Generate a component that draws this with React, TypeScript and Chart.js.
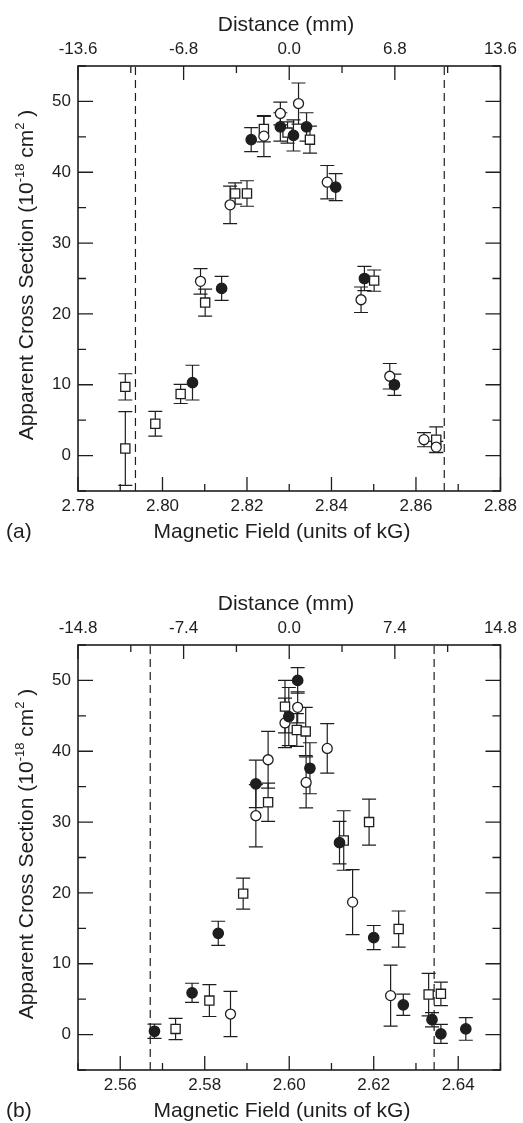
import React, { useEffect, useRef } from "react";
import { Chart, registerables } from "chart.js";

Chart.register(...registerables);

const W = 523;
const H = 544;
const PANEL_B_TOP = 579;
const INK = "#1e1e1e";
const FONT = '"Liberation Sans", Arial, Helvetica, sans-serif';

// ---------------- shared axis values ----------------
const Y_TICKS = [-5, 0, 5, 10, 15, 20, 25, 30, 35, 40, 45, 50, 55];

// ---------------- Panel (a) ----------------
const A_FIELD_TICKS = [2.78, 2.79, 2.8, 2.81, 2.82, 2.83, 2.84, 2.85, 2.86, 2.87, 2.88];
const A_DIST_TICKS = [-13.6, -10.2, -6.8, -3.4, 0, 3.4, 6.8, 10.2, 13.6];
const A_FILLED_X = [2.8071, 2.814, 2.821, 2.8279, 2.831, 2.8341, 2.841, 2.8478, 2.8549];
const A_FILLED_Y = [10.3, 23.6, 44.6, 46.4, 45.2, 46.4, 37.9, 25.0, 10.0];
const A_FILLED_ERR = [2.45, 1.7, 1.7, 2.0, 2.2, 2.0, 1.9, 1.7, 1.5];
const A_OPEN_X = [2.809, 2.816, 2.824, 2.8279, 2.8322, 2.839, 2.847, 2.8538, 2.8619, 2.8648];
const A_OPEN_Y = [24.6, 35.4, 45.1, 48.3, 49.7, 38.6, 22.0, 11.2, 2.25, 1.2];
const A_OPEN_ERR = [1.8, 2.65, 2.9, 1.6, 2.9, 2.35, 1.8, 1.8, 1.0, 0.8];
const A_SQUARE_X = [2.7912, 2.7912, 2.7983, 2.8043, 2.8101, 2.8172, 2.82, 2.824, 2.8296, 2.8349, 2.8501, 2.8648];
const A_SQUARE_Y = [9.7, 1.0, 4.5, 8.7, 21.6, 37.0, 37.0, 46.1, 45.6, 44.6, 24.7, 2.25];
const A_SQUARE_ERR = [1.85, 5.2, 1.75, 1.35, 1.9, 1.5, 1.8, 1.8, 1.5, 1.9, 1.5, 1.8];
const A_DASH_X = [2.7936, 2.8667];

// ---------------- Panel (b) ----------------
const B_FIELD_TICKS = [2.55, 2.56, 2.57, 2.58, 2.59, 2.6, 2.61, 2.62, 2.63, 2.64, 2.65];
const B_DIST_TICKS = [-14.8, -11.1, -7.4, -3.7, 0, 3.7, 7.4, 11.1, 14.8];
const B_FILLED_X = [2.5681, 2.577, 2.5832, 2.5921, 2.5999, 2.602, 2.6049, 2.6119, 2.62, 2.627, 2.6338, 2.6359, 2.6418];
const B_FILLED_Y = [0.47, 5.9, 14.3, 35.4, 44.9, 50.0, 37.6, 27.1, 13.7, 4.2, 2.1, 0.1, 0.8];
const B_FILLED_ERR = [1.0, 1.35, 1.7, 3.35, 4.1, 1.8, 3.6, 3.0, 1.7, 1.5, 1.0, 1.35, 1.6];
const B_OPEN_X = [2.5861, 2.5921, 2.595, 2.599, 2.602, 2.604, 2.609, 2.615, 2.624];
const B_OPEN_Y = [2.9, 30.9, 38.8, 44.0, 46.2, 35.6, 40.4, 18.7, 5.5];
const B_OPEN_ERR = [3.2, 4.4, 4.0, 3.5, 2.2, 3.6, 3.5, 4.6, 4.3];
const B_SQUARE_X = [2.5731, 2.5811, 2.5891, 2.595, 2.599, 2.6018, 2.6039, 2.6129, 2.6189, 2.6259, 2.633, 2.6359];
const B_SQUARE_Y = [0.8, 4.8, 19.9, 32.8, 46.3, 43.0, 42.8, 27.4, 30.0, 14.9, 5.65, 5.75];
const B_SQUARE_ERR = [1.5, 2.25, 2.2, 2.7, 3.7, 2.3, 3.4, 4.2, 3.25, 2.55, 3.0, 1.65];
const B_DASH_X = [2.5671, 2.6343];

type PanelData = {
  letter: string;
  fieldTicks: number[];
  distTicks: number[];
  filled: [number[], number[], number[]];
  open: [number[], number[], number[]];
  square: [number[], number[], number[]];
  dash: number[];
};

const PANEL_A: PanelData = {
  letter: "(a)",
  fieldTicks: A_FIELD_TICKS,
  distTicks: A_DIST_TICKS,
  filled: [A_FILLED_X, A_FILLED_Y, A_FILLED_ERR],
  open: [A_OPEN_X, A_OPEN_Y, A_OPEN_ERR],
  square: [A_SQUARE_X, A_SQUARE_Y, A_SQUARE_ERR],
  dash: A_DASH_X,
};

const PANEL_B: PanelData = {
  letter: "(b)",
  fieldTicks: B_FIELD_TICKS,
  distTicks: B_DIST_TICKS,
  filled: [B_FILLED_X, B_FILLED_Y, B_FILLED_ERR],
  open: [B_OPEN_X, B_OPEN_Y, B_OPEN_ERR],
  square: [B_SQUARE_X, B_SQUARE_Y, B_SQUARE_ERR],
  dash: B_DASH_X,
};

const TICK_FONT = { family: FONT, size: 17 };

const isFieldMajor = (v: number) => Math.round(v * 100) % 2 === 0;

function markerSet(
  label: string,
  d: [number[], number[], number[]],
  style: "circle" | "rect",
  fill: string,
  r: number
) {
  const [xs, ys, errs] = d;
  return {
    type: "scatter",
    label,
    data: xs.map((x, i) => ({ x, y: ys[i] })),
    errs,
    showLine: false,
    pointStyle: style,
    pointRadius: r,
    pointHoverRadius: r,
    pointBackgroundColor: fill,
    pointBorderColor: INK,
    pointBorderWidth: 1.3,
    xAxisID: "x",
    yAxisID: "y",
  } as any;
}

function dashSet(xv: number) {
  return {
    type: "line",
    data: [
      { x: xv, y: Y_TICKS[0] },
      { x: xv, y: Y_TICKS[Y_TICKS.length - 1] },
    ],
    showLine: true,
    borderColor: INK,
    borderWidth: 1.2,
    borderDash: [8, 5],
    pointRadius: 0,
    xAxisID: "x",
    yAxisID: "y",
  } as any;
}

function drawYTitle(ctx: CanvasRenderingContext2D, cx: number, cy: number) {
  const segs = [
    { t: "Apparent Cross Section (10", sup: false },
    { t: "-18", sup: true },
    { t: " cm", sup: false },
    { t: "2", sup: true },
    { t: " )", sup: false },
  ];
  ctx.save();
  ctx.translate(cx, cy);
  ctx.rotate(-Math.PI / 2);
  ctx.textAlign = "left";
  ctx.textBaseline = "alphabetic";
  ctx.fillStyle = INK;
  const fontOf = (sup: boolean) => (sup ? `13px ${FONT}` : `21px ${FONT}`);
  let total = 0;
  const widths = segs.map((s) => {
    ctx.font = fontOf(s.sup);
    const w = ctx.measureText(s.t).width;
    total += w;
    return w;
  });
  let x = -total / 2;
  segs.forEach((s, i) => {
    ctx.font = fontOf(s.sup);
    ctx.fillText(s.t, x, s.sup ? -9 : 0);
    x += widths[i];
  });
  ctx.restore();
}

function overlayPlugin(p: PanelData) {
  return {
    id: "overlay",
    beforeDatasetsDraw(chart: any) {
      const ctx = chart.ctx as CanvasRenderingContext2D;
      const xs = chart.scales.x;
      const ys = chart.scales.y;
      ctx.save();
      ctx.strokeStyle = INK;
      ctx.lineWidth = 1.2;
      chart.data.datasets.forEach((ds: any) => {
        if (!ds.errs) return;
        ds.data.forEach((pt: any, i: number) => {
          const e = ds.errs[i];
          const px = xs.getPixelForValue(pt.x);
          const y1 = ys.getPixelForValue(pt.y + e);
          const y2 = ys.getPixelForValue(pt.y - e);
          ctx.beginPath();
          ctx.moveTo(px, y1);
          ctx.lineTo(px, y2);
          ctx.moveTo(px - 7, y1);
          ctx.lineTo(px + 7, y1);
          ctx.moveTo(px - 7, y2);
          ctx.lineTo(px + 7, y2);
          ctx.stroke();
        });
      });
      ctx.restore();
    },
    afterDraw(chart: any) {
      const ctx = chart.ctx as CanvasRenderingContext2D;
      const { left, right, top, bottom } = chart.chartArea;
      const sx = chart.scales.x;
      const sx2 = chart.scales.x2;
      const sy = chart.scales.y;
      const sy2 = chart.scales.y2;
      ctx.save();
      ctx.strokeStyle = INK;
      ctx.lineWidth = 1.6;
      ctx.strokeRect(left, top, right - left, bottom - top);
      ctx.lineWidth = 1.3;
      ctx.beginPath();
      p.fieldTicks.forEach((v) => {
        const px = sx.getPixelForValue(v);
        const len = isFieldMajor(v) ? 14 : 7;
        ctx.moveTo(px, bottom);
        ctx.lineTo(px, bottom - len);
      });
      p.distTicks.forEach((v, i) => {
        const px = sx2.getPixelForValue(v);
        const len = i % 2 === 0 ? 14 : 7;
        ctx.moveTo(px, top);
        ctx.lineTo(px, top + len);
      });
      Y_TICKS.forEach((v) => {
        const len = v % 10 === 0 ? 15 : 8;
        const py = sy.getPixelForValue(v);
        ctx.moveTo(left, py);
        ctx.lineTo(left + len, py);
        const py2 = sy2.getPixelForValue(v);
        ctx.moveTo(right, py2);
        ctx.lineTo(right - len, py2);
      });
      ctx.stroke();

      ctx.fillStyle = INK;
      ctx.font = `21px ${FONT}`;
      ctx.textBaseline = "alphabetic";
      ctx.textAlign = "center";
      ctx.fillText("Distance (mm)", 286, 31);
      ctx.fillText("Magnetic Field (units of kG)", 282, 538);
      ctx.textAlign = "left";
      ctx.fillText(p.letter, 6, 538);
      drawYTitle(ctx, 33, 275);
      ctx.restore();
    },
  };
}

function buildConfig(p: PanelData): any {
  const ft = p.fieldTicks;
  const dt = p.distTicks;
  return {
    type: "scatter",
    data: {
      datasets: [
        ...p.dash.map((d) => dashSet(d)),
        markerSet("filled", p.filled, "circle", INK, 5.2),
        markerSet("open", p.open, "circle", "#ffffff", 5),
        markerSet("square", p.square, "rect", "#ffffff", 6.5),
      ],
    },
    options: {
      responsive: false,
      animation: false,
      devicePixelRatio: 1,
      layout: { padding: 0 },
      plugins: {
        legend: { display: false },
        tooltip: { enabled: false },
        title: { display: false },
      },
      events: [],
      scales: {
        x: {
          type: "linear",
          position: "bottom",
          min: ft[0],
          max: ft[ft.length - 1],
          afterBuildTicks: (s: any) => {
            s.ticks = ft.map((v) => ({ value: v }));
          },
          afterFit: (s: any) => {
            s.height = 53;
          },
          ticks: {
            autoSkip: false,
            maxRotation: 0,
            padding: 5,
            color: INK,
            font: TICK_FONT,
            callback: (v: number) => (isFieldMajor(v) ? v.toFixed(2) : ""),
          },
          grid: { display: false, drawTicks: false },
          border: { display: false },
        },
        x2: {
          type: "linear",
          position: "top",
          min: dt[0],
          max: dt[dt.length - 1],
          afterBuildTicks: (s: any) => {
            s.ticks = dt.map((v) => ({ value: v }));
          },
          afterFit: (s: any) => {
            s.height = 66;
          },
          ticks: {
            autoSkip: false,
            maxRotation: 0,
            padding: 6,
            color: INK,
            font: TICK_FONT,
            callback: (v: number, i: number) => (i % 2 === 0 ? v.toFixed(1) : ""),
          },
          grid: { display: false, drawTicks: false },
          border: { display: false },
        },
        y: {
          type: "linear",
          position: "left",
          min: Y_TICKS[0],
          max: Y_TICKS[Y_TICKS.length - 1],
          afterBuildTicks: (s: any) => {
            s.ticks = Y_TICKS.map((v) => ({ value: v }));
          },
          afterFit: (s: any) => {
            s.width = 78;
          },
          ticks: {
            autoSkip: false,
            padding: 7,
            color: INK,
            font: TICK_FONT,
            callback: (v: number) =>
              v % 10 === 0 && v >= 0 && v <= 50 ? String(v) : "",
          },
          grid: { display: false, drawTicks: false },
          border: { display: false },
        },
        y2: {
          type: "linear",
          position: "right",
          min: Y_TICKS[0],
          max: Y_TICKS[Y_TICKS.length - 1],
          afterFit: (s: any) => {
            s.width = 18;
          },
          ticks: { display: false },
          grid: { display: false, drawTicks: false },
          border: { display: false },
        },
      },
    },
    plugins: [overlayPlugin(p)],
  };
}

function Panel({ data, top }: { data: PanelData; top: number }) {
  const ref = useRef<HTMLCanvasElement>(null);
  useEffect(() => {
    const chart = new Chart(ref.current as HTMLCanvasElement, buildConfig(data));
    return () => chart.destroy();
  }, [data]);
  return (
    <canvas
      ref={ref}
      width={W}
      height={H}
      style={{ position: "absolute", left: 0, top, width: W, height: H, display: "block" }}
    />
  );
}

export default function App() {
  return (
    <div
      style={{
        position: "absolute",
        left: 0,
        top: 0,
        width: W,
        height: 1123,
        overflow: "hidden",
        background: "#ffffff",
      }}
    >
      <Panel data={PANEL_A} top={0} />
      <Panel data={PANEL_B} top={PANEL_B_TOP} />
    </div>
  );
}
